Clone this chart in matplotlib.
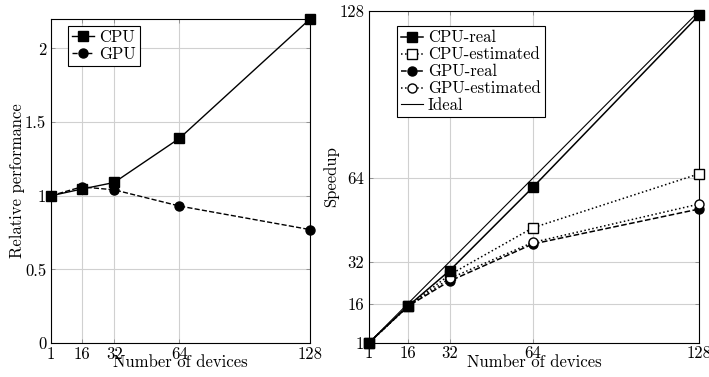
import matplotlib
matplotlib.use("Agg")
import matplotlib.pyplot as plt

plt.rcParams['font.family'] = 'serif'
plt.rcParams['font.serif'] = ['cmr10', 'DejaVu Serif']
plt.rcParams['mathtext.fontset'] = 'cm'
plt.rcParams['axes.formatter.use_mathtext'] = True
plt.rcParams['font.size'] = 12

devices = [1, 16, 32, 64, 128]
rel_cpu = [1.0, 1.045, 1.09, 1.39, 2.2]
rel_gpu = [1.0, 1.06, 1.04, 0.93, 0.77]

cpu_real = [1, 15, 28.6, 60.5, 126.5]
cpu_est = [1, 15, 27, 45, 65.7]
gpu_real = [1, 15, 24.6, 38.8, 52.2]
gpu_est = [1, 15, 25.6, 39.4, 54.1]
ideal = [1, 16, 32, 64, 128]

left_yticks = [0, 0.5, 1, 1.5, 2]
left_yticklabels = ['0', '0.5', '1', '1.5', '2']
right_yticks = [1, 16, 32, 64, 128]

fig = plt.figure(figsize=(7.09, 3.77), dpi=100)
ax1 = fig.add_axes([51/709, 34/377, 259/709, 324/377])
ax2 = fig.add_axes([369/709, 34.3/377, 330.3/709, 331.7/377])

def style(ax):
    ax.grid(True, color='#d0d0d0', linewidth=0.8)
    ax.set_axisbelow(True)
    ax.tick_params(direction='in', top=True, right=True, length=3, width=0.6,
                   color='#888888')
    ax.tick_params(axis='y', pad=3.5)
    ax.tick_params(axis='x', pad=2.5)
    for s in ax.spines.values():
        s.set_linewidth(0.8)
    ax.set_xticks(devices)
    ax.set_xticklabels([str(d) for d in devices])
    ax.set_xlim(1, 128)
    ax.set_xlabel('Number of devices', labelpad=-5)

ms = 6.5
ax1.plot(devices, rel_cpu, 'k-', marker='s', ms=ms, lw=1, label='CPU', clip_on=False, zorder=3)
ax1.plot(devices, rel_gpu, 'k--', marker='o', ms=ms, lw=1, label='GPU', clip_on=False, zorder=3)
style(ax1)
ax1.set_ylim(0, 2.2)
ax1.set_yticks(left_yticks)
ax1.set_yticklabels(left_yticklabels)
ax1.set_ylabel('Relative performance', labelpad=0)
ax1.legend(loc='upper left', bbox_to_anchor=(0.06, 0.985), frameon=True, fancybox=False,
           edgecolor='black', framealpha=1, handlelength=1.3, handletextpad=0.3,
           borderpad=0.25, labelspacing=0.1, borderaxespad=0.1)
ax1.get_legend().get_frame().set_linewidth(0.8)

ax2.plot(devices, cpu_real, 'k-', marker='s', ms=ms, lw=1.1, label='CPU-real', clip_on=False, zorder=4)
ax2.plot(devices, cpu_est, 'k:', marker='s', ms=ms, mfc='white', lw=1.1, label='CPU-estimated', clip_on=False, zorder=3)
ax2.plot(devices, gpu_real, 'k--', marker='o', ms=ms, lw=1.1, label='GPU-real', clip_on=False, zorder=3)
ax2.plot(devices, gpu_est, 'k:', marker='o', ms=ms, mfc='white', lw=1.1, label='GPU-estimated', clip_on=False, zorder=3)
ax2.plot(devices, ideal, 'k-', lw=0.8, label='Ideal', zorder=2)
style(ax2)
ax2.set_ylim(1, 128)
ax2.set_yticks(right_yticks)
ax2.set_yticklabels([str(v) for v in right_yticks])
ax2.set_ylabel('Speedup', labelpad=0)
ax2.legend(loc='upper left', bbox_to_anchor=(0.08, 0.96), frameon=True, fancybox=False,
           edgecolor='black', framealpha=1, handlelength=1.3, handletextpad=0.3,
           borderpad=0.25, labelspacing=0.1, borderaxespad=0.1)
ax2.get_legend().get_frame().set_linewidth(0.8)

fig.savefig('out.png', dpi=100)
